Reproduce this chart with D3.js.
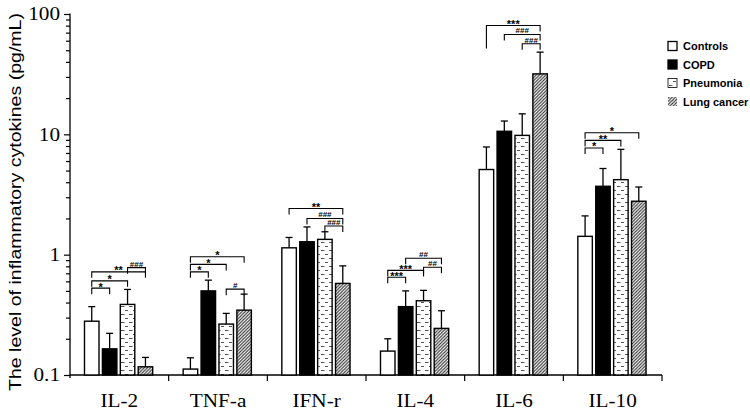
<!DOCTYPE html>
<html>
<head>
<meta charset="utf-8">
<script src="https://cdn.jsdelivr.net/npm/d3@7"></script>
<style>
  body { margin: 0; background: #fff; }
  svg { display: block; }
</style>
</head>
<body>
<div id="chart"></div>
<script>
// cytokine groups on the x axis
const categories = ["IL-2", "TNF-a", "IFN-r", "IL-4", "IL-6", "IL-10"];
const groups = ["Controls", "COPD", "Pneumonia", "Lung cancer"];

// means (pg/mL) and upper SD, per group, in category order
const controlsMean = [0.28, 0.112, 1.14, 0.158, 5.1, 1.42];
const controlsSd = [0.09, 0.027, 0.25, 0.042, 2.75, 0.68];
const copdMean = [0.165, 0.5, 1.28, 0.37, 10.6, 3.7];
const copdSd = [0.057, 0.114, 0.42, 0.13, 2.3, 1.5];
const pneumoniaMean = [0.386, 0.265, 1.34, 0.414, 9.8, 4.2];
const pneumoniaSd = [0.128, 0.06, 0.21, 0.091, 5.0, 3.3];
const lungCancerMean = [0.117, 0.346, 0.577, 0.244, 31.8, 2.78];
const lungCancerSd = [0.023, 0.124, 0.23, 0.098, 16.4, 0.87];

// y axis
const majorTicks = [0.1, 1, 10, 100];

// significance brackets: level (and optional lower end of left leg) in pg/mL
const brackets = [
  { cat: "IL-2", from: "Controls", to: "COPD", level: 0.527, label: "*" },
  { cat: "IL-2", from: "Controls", to: "Pneumonia", level: 0.606, label: "*" },
  { cat: "IL-2", from: "Controls", to: "Lung cancer", level: 0.72, label: "**" },
  { cat: "IL-2", from: "Pneumonia", to: "Lung cancer", level: 0.78, label: "###" },
  { cat: "TNF-a", from: "Controls", to: "COPD", level: 0.72, label: "*" },
  { cat: "TNF-a", from: "Controls", to: "Pneumonia", level: 0.83, label: "*" },
  { cat: "TNF-a", from: "Controls", to: "Lung cancer", level: 0.96, label: "*" },
  { cat: "TNF-a", from: "Pneumonia", to: "Lung cancer", level: 0.517, label: "#" },
  { cat: "IFN-r", from: "Controls", to: "Lung cancer", level: 2.42, label: "**" },
  { cat: "IFN-r", from: "COPD", to: "Lung cancer", level: 2.0, label: "###" },
  { cat: "IFN-r", from: "Pneumonia", to: "Lung cancer", level: 1.73, label: "###" },
  { cat: "IL-4", from: "Controls", to: "COPD", level: 0.65, label: "***" },
  { cat: "IL-4", from: "Controls", to: "Pneumonia", level: 0.74, label: "***" },
  { cat: "IL-4", from: "COPD", to: "Lung cancer", level: 0.935, label: "##" },
  { cat: "IL-4", from: "Pneumonia", to: "Lung cancer", level: 0.787, label: "##" },
  { cat: "IL-6", from: "Controls", to: "Lung cancer", level: 80.3, low: 51.8, label: "***" },
  { cat: "IL-6", from: "COPD", to: "Lung cancer", level: 67.6, label: "###" },
  { cat: "IL-6", from: "Pneumonia", to: "Lung cancer", level: 56.6, label: "###" },
  { cat: "IL-10", from: "Controls", to: "Lung cancer", level: 10.3, label: "*" },
  { cat: "IL-10", from: "Controls", to: "Pneumonia", level: 8.9, label: "**" },
  { cat: "IL-10", from: "Controls", to: "COPD", level: 7.7, label: "*" }
];

const series = [
  { name: "Controls", mean: controlsMean, sd: controlsSd },
  { name: "COPD", mean: copdMean, sd: copdSd },
  { name: "Pneumonia", mean: pneumoniaMean, sd: pneumoniaSd },
  { name: "Lung cancer", mean: lungCancerMean, sd: lungCancerSd }
];

const width = 750;
const height = 410;
const serif = "'Liberation Serif', 'Times New Roman', serif";
const sans = "'Liberation Sans', Arial, sans-serif";
const stretch = 1.18; // glyphs in the original are drawn a little wide

const svg = d3.select("#chart").append("svg")
  .attr("width", width)
  .attr("height", height);

const defs = svg.append("defs");

const dash = defs.append("pattern")
  .attr("id", "dash")
  .attr("patternUnits", "userSpaceOnUse")
  .attr("width", 8)
  .attr("height", 8);
dash.append("rect").attr("width", 8).attr("height", 8).attr("fill", "#fff");
dash.append("line").attr("x1", 1).attr("x2", 4.5).attr("y1", 2.5).attr("y2", 2.5)
  .attr("stroke", "#555").attr("stroke-width", 1);
dash.append("line").attr("x1", 5).attr("x2", 8.5).attr("y1", 6.5).attr("y2", 6.5)
  .attr("stroke", "#555").attr("stroke-width", 1);

const hatch = defs.append("pattern")
  .attr("id", "hatch")
  .attr("patternUnits", "userSpaceOnUse")
  .attr("width", 3.2)
  .attr("height", 3.2);
hatch.append("rect").attr("width", 3.2).attr("height", 3.2).attr("fill", "#fff");
hatch.append("path")
  .attr("d", "M-0.8,0.8 L0.8,-0.8 M0,3.2 L3.2,0 M2.4,4 L4,2.4")
  .attr("stroke", "#333")
  .attr("stroke-width", 1.1);

const fills = {
  "Controls": "#fff",
  "COPD": "#000",
  "Pneumonia": "url(#dash)",
  "Lung cancer": "url(#hatch)"
};

const x = d3.scaleBand().domain(categories).range([70, 662]);
const xi = d3.scaleBand().domain(groups).range([14.5, 82.7]).paddingInner(0.19);
const y = d3.scaleLog().domain([0.1, 100]).range([375, 14]);

const cx = (cat, grp) => x(cat) + xi(grp) + xi.bandwidth() / 2;

// y axis with minor ticks
const allTicks = [];
majorTicks.forEach((m, i) => {
  allTicks.push(m);
  if (i < majorTicks.length - 1) {
    for (let k = 2; k <= 9; k++) allTicks.push(m * k);
  }
});
const isMajor = (v) => majorTicks.some((m) => Math.abs(m - v) < 1e-9);

const yAxis = svg.append("g")
  .attr("transform", "translate(70,0)")
  .call(d3.axisLeft(y).tickValues(allTicks).tickSizeOuter(0)
    .tickFormat((d) => (isMajor(d) ? d3.format("")(d) : "")));
yAxis.select(".domain").attr("stroke", "#000").attr("stroke-width", 1.3)
  .attr("d", "M0,13.5V378");
yAxis.selectAll(".tick line")
  .attr("stroke", "#000")
  .attr("stroke-width", 1.2)
  .attr("x2", (d) => (isMajor(d) ? -6 : -4));
yAxis.selectAll(".tick text")
  .attr("x", -10 / stretch)
  .attr("transform", `scale(${stretch},1)`)
  .style("font-family", serif)
  .style("font-size", "18px")
  .attr("fill", "#000");

// x axis
const xAxis = svg.append("g");
xAxis.append("line")
  .attr("x1", 70).attr("x2", x.range()[1])
  .attr("y1", y(0.1)).attr("y2", y(0.1))
  .attr("stroke", "#000").attr("stroke-width", 1.3);
xAxis.selectAll(".xtick")
  .data(categories)
  .join("line")
  .attr("class", "xtick")
  .attr("x1", (d) => x(d) + x.bandwidth())
  .attr("x2", (d) => x(d) + x.bandwidth())
  .attr("y1", y(0.1))
  .attr("y2", y(0.1) + 6)
  .attr("stroke", "#000").attr("stroke-width", 1.2);
xAxis.selectAll(".xlabel")
  .data(categories)
  .join("text")
  .attr("class", "xlabel")
  .attr("transform", (d) => `translate(${x(d) + x.bandwidth() / 2},407) scale(${stretch},1)`)
  .attr("text-anchor", "middle")
  .style("font-family", serif)
  .style("font-size", "18px")
  .text((d) => d);

// bars
const barData = [];
series.forEach((s) => {
  categories.forEach((c, i) => {
    barData.push({ cat: c, grp: s.name, mean: s.mean[i], sd: s.sd[i] });
  });
});

const bars = svg.append("g");
bars.selectAll("rect")
  .data(barData)
  .join("rect")
  .attr("x", (d) => x(d.cat) + xi(d.grp))
  .attr("width", xi.bandwidth())
  .attr("y", (d) => y(d.mean))
  .attr("height", (d) => y(0.1) - y(d.mean))
  .attr("fill", (d) => fills[d.grp])
  .attr("stroke", "#000")
  .attr("stroke-width", 1.4);

// error bars (upper only)
const err = svg.append("g").attr("stroke", "#000").attr("stroke-width", 1.3);
err.selectAll(".stem")
  .data(barData)
  .join("line")
  .attr("class", "stem")
  .attr("x1", (d) => cx(d.cat, d.grp))
  .attr("x2", (d) => cx(d.cat, d.grp))
  .attr("y1", (d) => y(d.mean))
  .attr("y2", (d) => y(d.mean + d.sd));
err.selectAll(".cap")
  .data(barData)
  .join("line")
  .attr("class", "cap")
  .attr("x1", (d) => cx(d.cat, d.grp) - 3.5)
  .attr("x2", (d) => cx(d.cat, d.grp) + 3.5)
  .attr("y1", (d) => y(d.mean + d.sd))
  .attr("y2", (d) => y(d.mean + d.sd));

// significance brackets (opacity just under 1 keeps small glyphs grey-scale)
const br = svg.append("g").attr("opacity", 0.995);
brackets.forEach((b) => {
  const x1 = cx(b.cat, b.from);
  const x2 = cx(b.cat, b.to);
  const yl = y(b.level);
  const yLeft = b.low ? y(b.low) : yl + 6;
  br.append("path")
    .attr("d", `M${x1},${yLeft}V${yl}H${x2}V${yl + 6}`)
    .attr("fill", "none")
    .attr("stroke", "#000")
    .attr("stroke-width", 1.1);
  const isHash = b.label.startsWith("#");
  br.append("text")
    .attr("x", (x1 + x2) / 2)
    .attr("y", isHash ? yl - 1 : yl + 2.5)
    .attr("text-anchor", "middle")
    .style("font-family", sans)
    .style("font-size", isHash ? "8px" : "11px")
    .style("font-weight", "bold")
    .attr("fill", "#000")
    .text(b.label);
});

// y title
svg.append("text")
  .attr("transform", "translate(15,202) rotate(-90)")
  .attr("text-anchor", "middle")
  .attr("dominant-baseline", "central")
  .attr("textLength", 378)
  .attr("lengthAdjust", "spacingAndGlyphs")
  .style("font-family", sans)
  .style("font-size", "17px")
  .text("The level of  inflammatory cytokines (pg/mL)");

// legend
const legend = svg.append("g").attr("transform", "translate(668,46)");
const rows = legend.selectAll("g")
  .data(groups)
  .join("g")
  .attr("transform", (d, i) => `translate(0,${i * 18.5})`);
rows.append("rect")
  .attr("x", 0).attr("y", -4.5)
  .attr("width", 9).attr("height", 9)
  .attr("fill", (d) => fills[d])
  .attr("stroke", (d) => (d === "Lung cancer" ? "none" : "#000"))
  .attr("stroke-width", (d) => (d === "Pneumonia" ? 0.8 : 1.3));
rows.append("text")
  .attr("x", 15)
  .attr("y", 0)
  .attr("dominant-baseline", "central")
  .style("font-family", sans)
  .style("font-size", "11px")
  .style("font-weight", "bold")
  .text((d) => d);
</script>
</body>
</html>
